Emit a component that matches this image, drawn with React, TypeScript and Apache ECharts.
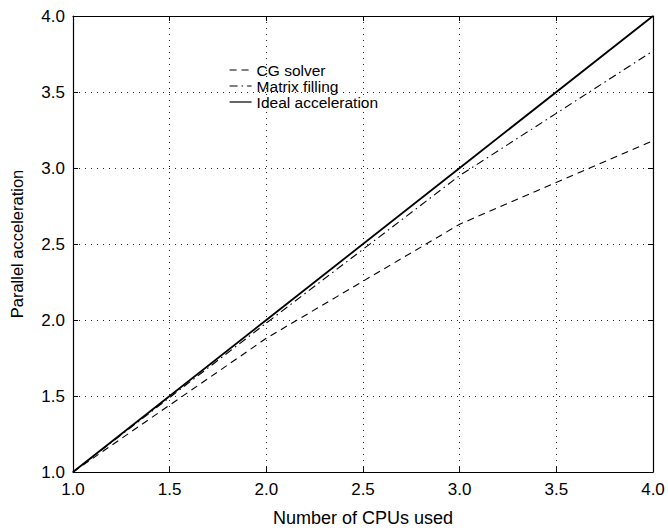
import React, { useEffect, useRef } from "react";
import * as echarts from "echarts";

const cpus = [1, 2, 3, 4];
const cgSolver = [1.0, 1.88, 2.63, 3.18];
const matrixFilling = [1.0, 1.98, 2.95, 3.77];
const idealAcceleration = [1.0, 2.0, 3.0, 4.0];
const seriesNames = ["CG solver", "Matrix filling", "Ideal acceleration"];

const FONT = "Liberation Sans";

export default function App() {
  const ref = useRef<HTMLDivElement>(null);
  useEffect(() => {
    if (!ref.current) return;
    const chart = echarts.init(ref.current, null, { renderer: "svg" });
    const pairs = (ys: number[]) => cpus.map((x, i) => [x, ys[i]]);
    const fmt = (v: number) => v.toFixed(1);
    const axisCommon = {
      min: 1,
      max: 4,
      interval: 0.5,
      axisLine: { show: true, lineStyle: { color: "#000", width: 1.2 } },
      axisTick: { show: true, inside: true, length: 5, lineStyle: { color: "#000" } },
    };
    chart.setOption({
      animation: false,
      backgroundColor: "#fff",
      textStyle: { fontFamily: FONT },
      grid: { left: 72, right: 15, top: 16, bottom: 57, containLabel: false },
      legend: {
        data: seriesNames,
        orient: "vertical",
        left: 229,
        top: 62,
        padding: 0,
        itemWidth: 22,
        itemHeight: 10,
        itemGap: 0,
        itemStyle: { opacity: 0, borderWidth: 0 },
        lineStyle: { width: 1.2 },
        textStyle: { fontFamily: FONT, fontSize: 15.5, color: "#000", lineHeight: 14 },
      },
      xAxis: [
        {
          ...axisCommon,
          type: "value",
          position: "bottom",
          name: "Number of CPUs used",
          nameLocation: "middle",
          nameGap: 37,
          nameTextStyle: { fontFamily: FONT, fontSize: 18, color: "#000" },
          axisLabel: { formatter: fmt, fontFamily: FONT, fontSize: 17, color: "#000", margin: 9 },
          splitLine: { show: true, lineStyle: { type: [1, 5], color: "#222", width: 1 } },
        },
        {
          ...axisCommon,
          type: "value",
          position: "top",
          axisLabel: { show: false },
          splitLine: { show: false },
        },
      ],
      yAxis: [
        {
          ...axisCommon,
          type: "value",
          position: "left",
          name: "Parallel acceleration",
          nameLocation: "middle",
          nameGap: 48,
          nameTextStyle: { fontFamily: FONT, fontSize: 16.5, color: "#000" },
          axisLabel: { formatter: fmt, fontFamily: FONT, fontSize: 17, color: "#000", margin: 8 },
          splitLine: { show: true, lineStyle: { type: [1, 5], color: "#222", width: 1 } },
        },
        {
          ...axisCommon,
          type: "value",
          position: "right",
          axisLabel: { show: false },
          splitLine: { show: false },
        },
      ],
      series: [
        {
          name: seriesNames[0],
          type: "line",
          data: pairs(cgSolver),
          symbol: "none",
          itemStyle: { color: "#000" },
          lineStyle: { color: "#000", width: 1.1, type: [7, 5] },
        },
        {
          name: seriesNames[1],
          type: "line",
          data: pairs(matrixFilling),
          symbol: "none",
          itemStyle: { color: "#000" },
          lineStyle: { color: "#000", width: 1.1, type: [8, 4, 1.5, 4] },
        },
        {
          name: seriesNames[2],
          type: "line",
          data: pairs(idealAcceleration),
          symbol: "none",
          itemStyle: { color: "#000" },
          lineStyle: { color: "#000", width: 1.8, type: "solid" },
        },
      ],
    });
    return () => chart.dispose();
  }, []);
  return <div ref={ref} style={{ width: 668, height: 532, position: "absolute", left: 0, top: 0 }} />;
}
